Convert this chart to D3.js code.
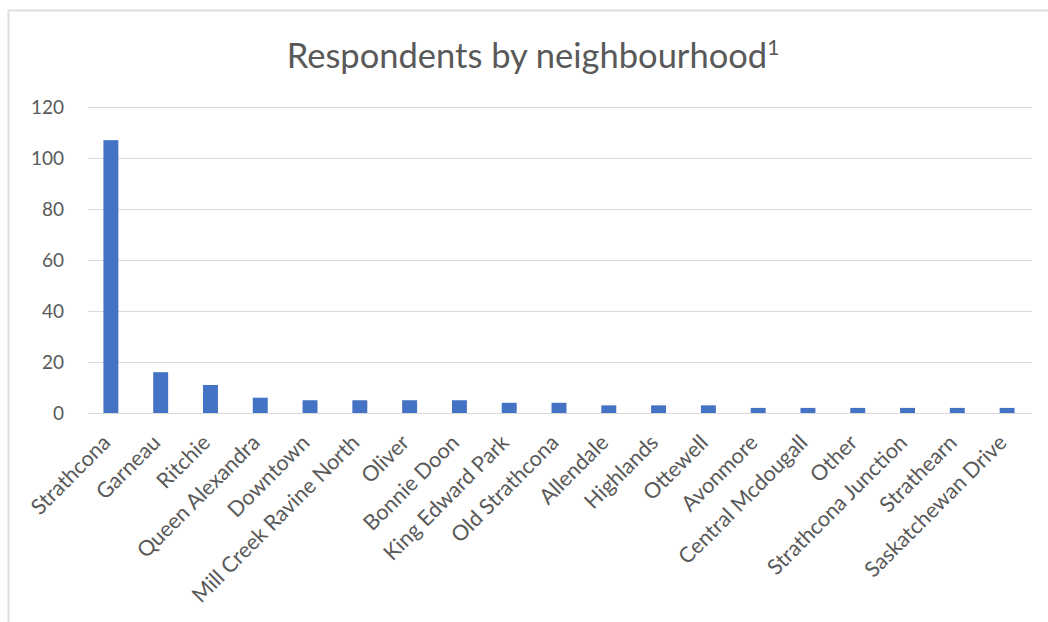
<!DOCTYPE html>
<html><head><meta charset="utf-8">
<script src="https://cdn.jsdelivr.net/npm/d3@7"></script>
<style>body{margin:0;background:#fff}svg{display:block}</style>
</head><body><div id="chart"></div>
<script>
const categories = ["Strathcona","Garneau","Ritchie","Queen Alexandra","Downtown","Mill Creek Ravine North","Oliver","Bonnie Doon","King Edward Park","Old Strathcona","Allendale","Highlands","Ottewell","Avonmore","Central Mcdougall","Other","Strathcona Junction","Strathearn","Saskatchewan Drive"];
const values = [107,16,11,6,5,5,5,5,4,4,3,3,3,2,2,2,2,2,2];
const yTicks = [0,20,40,60,80,100,120];
const titleText = "Respondents by neighbourhood";
const titleSup = "1";

const W = 1048, H = 622;
const font = "Lato, 'Open Sans', sans-serif";
const svg = d3.select("#chart").append("svg").attr("width", W).attr("height", H);

// frame (cropped screenshot: top and left edges visible)
svg.append("line").attr("x1", 8).attr("x2", W).attr("y1", 10.5).attr("y2", 10.5).attr("stroke", "#dedede").attr("stroke-width", 2);
svg.append("line").attr("x1", 8.5).attr("x2", 8.5).attr("y1", 10).attr("y2", H).attr("stroke", "#dedede").attr("stroke-width", 2);

const x = d3.scaleBand().domain(categories).range([86, 1032]).paddingInner(0.7).paddingOuter(0.35);
const y = d3.scaleLinear().domain([0, 120]).range([413, 107]);

// gridlines
svg.append("g").selectAll("line").data(yTicks).join("line")
  .attr("x1", 88).attr("x2", 1032)
  .attr("y1", d => Math.round(y(d)) + 0.5).attr("y2", d => Math.round(y(d)) + 0.5)
  .attr("stroke", "#d9d9d9").attr("stroke-width", 1);

// y axis labels
const yAxis = d3.axisLeft(y).tickValues(yTicks).tickSize(0).tickPadding(0);
const gy = svg.append("g").attr("transform", "translate(64,0)").call(yAxis);
gy.select(".domain").remove();
gy.selectAll("text").attr("font-family", font).attr("font-size", 19).attr("fill", "#595959").attr("dy", "0.35em");

// bars
svg.append("g").selectAll("rect").data(values).join("rect")
  .attr("x", (d, i) => x(categories[i]))
  .attr("width", x.bandwidth())
  .attr("y", d => y(d))
  .attr("height", d => y(0) - y(d))
  .attr("fill", "#4472c4");

// x axis labels
const xAxis = d3.axisBottom(x).tickSize(0).tickPadding(0);
const gx = svg.append("g").attr("transform", "translate(0,413)").call(xAxis);
gx.select(".domain").remove();
gx.selectAll("text")
  .attr("font-family", font).attr("font-size", 21.5).attr("fill", "#595959")
  .attr("text-anchor", "end").attr("dy", null).attr("y", 0)
  .attr("transform", "translate(1,31) rotate(-45)");

// title
const t = svg.append("text").attr("x", 533).attr("y", 68).attr("text-anchor", "middle")
  .attr("font-family", font).attr("font-size", 34.5).attr("fill", "#595959");
t.append("tspan").text(titleText);
t.append("tspan").attr("font-size", 21).attr("dy", -13).text(titleSup);
</script></body></html>
